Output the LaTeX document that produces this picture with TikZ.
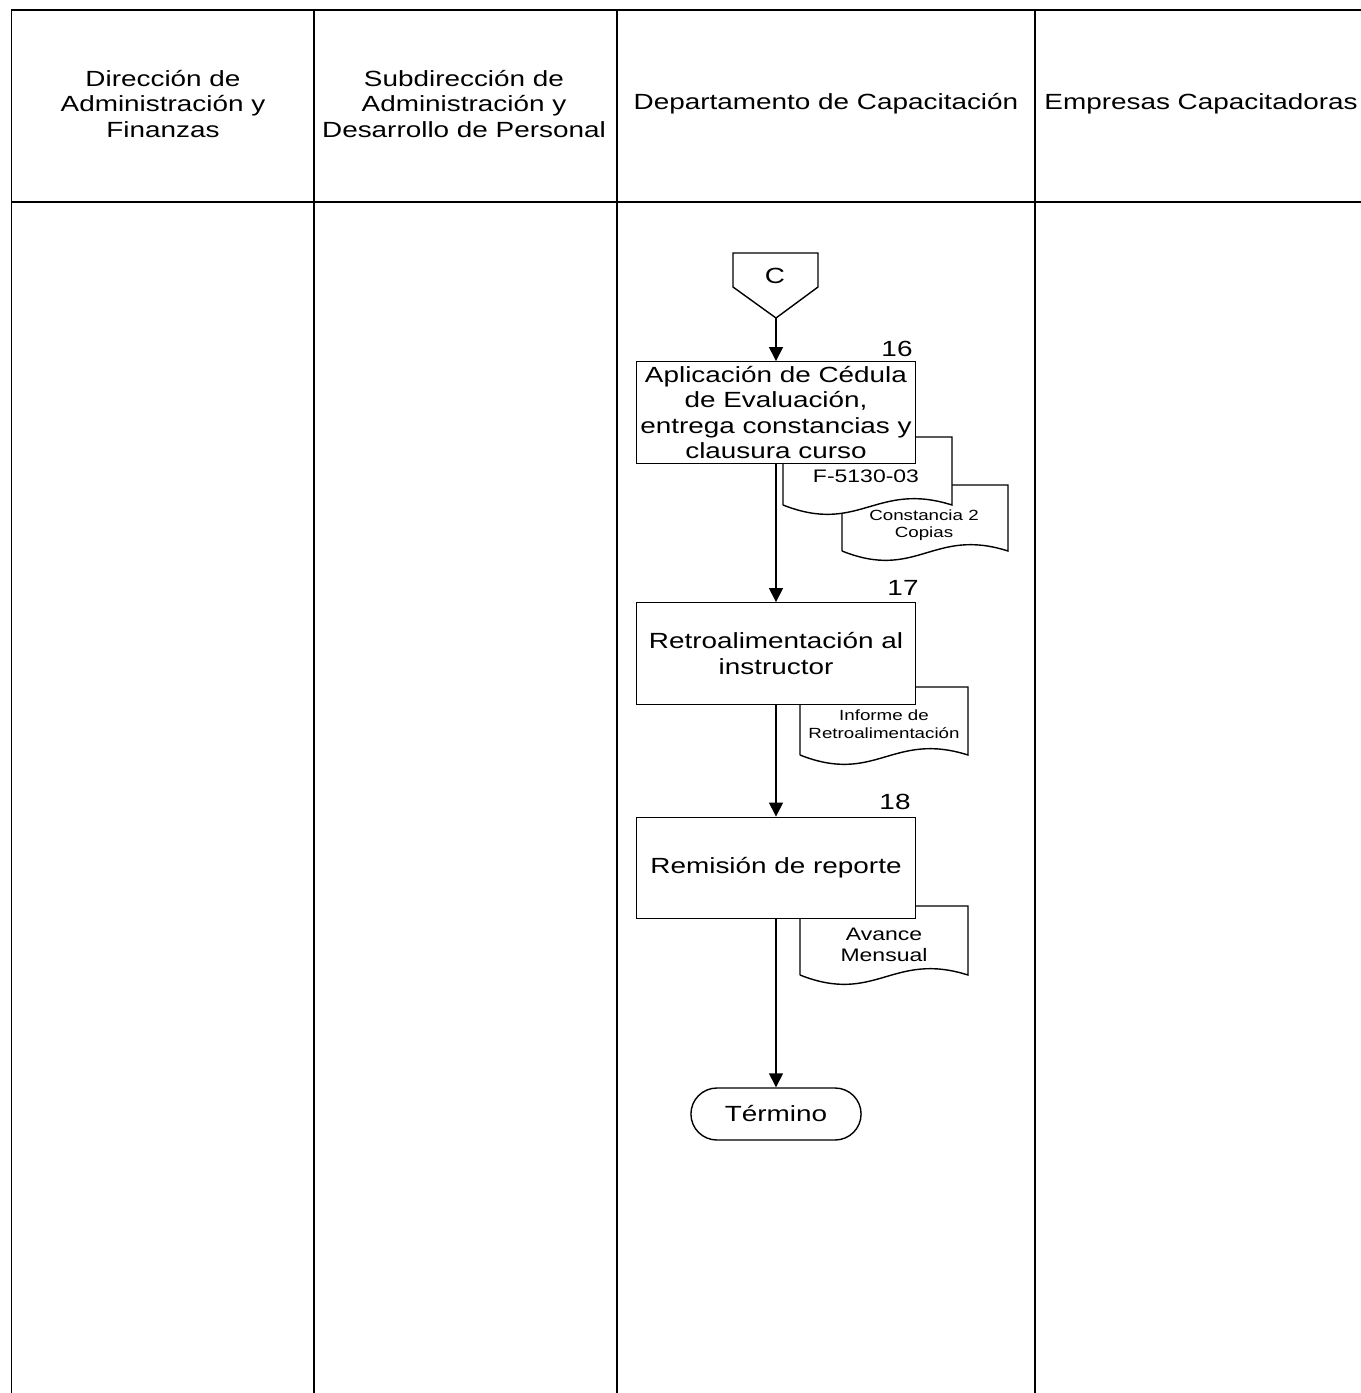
\documentclass[tikz,border=0pt]{standalone}
\usepackage{fontspec}
\setmainfont{Liberation Sans}
\usetikzlibrary{arrows.meta}
\tikzset{
  lane/.style={line width=0.8pt},                                  % swimlane rules
  txt/.style={align=center,xscale=1.27,inner sep=0pt,font=\fontsize{12.5}{14.6}\selectfont},
  small/.style={txt,font=\fontsize{8.4}{10}\selectfont},           % doc caption
  mid/.style={txt,font=\fontsize{10.3}{12}\selectfont},
  proc/.style={txt,draw,fill=white,line width=0.8pt,minimum width=4.40cm,minimum height=2.03cm},
  term/.style={txt,draw,fill=white,line width=0.8pt,rounded corners=0.52cm,minimum width=2.68cm,minimum height=1.04cm},
  flow/.style={-{Triangle[length=2.8mm,width=2.8mm]},line width=0.8pt},
  docu/.style={draw,fill=white,line width=0.8pt},
}
\newcommand{\docshape}[4]{% x1, top, x2, bottom
  \draw[docu] (#1,#4) -- (#1,#2) -- (#3,#2) -- (#3,#4)
    .. controls ({#1+0.55*(#3-#1)},{#4-24}) and ({#1+0.45*(#3-#1)},{#4+30}) .. (#1,#4);
}
\newcommand{\offpage}[2]{% tip x, tip y
  \draw[lane] ({#1-43},{#2-65}) -- ({#1+42},{#2-65}) -- ({#1+42},{#2-31})
    -- (#1,#2) -- ({#1-43},{#2-31}) -- cycle;
}

\begin{document}
\begin{tikzpicture}[x=0.02cm,y=-0.02cm]
  \useasboundingbox (0,0) rectangle (1361,1393);
  % lanes
  \draw[lane] (1361,10) -- (11.5,10) -- (11.5,1393);
  \draw[lane] (11.5,202) -- (1361,202);
  \foreach \x in {314,617,1035} \draw[lane] (\x,10) -- (\x,1393);
  \node[txt] (dir) at (163,104) {Dirección de\\Administración y\\Finanzas};
  \node[txt] (sub) at (464,104) {Subdirección de\\Administración y\\Desarrollo de Personal};
  \node[txt] (dep) at (826,104) {Departamento de Capacitación};
  \node[txt] (emp) at (1201,104) {Empresas Capacitadoras};

  % connector C
  \offpage{776}{318}
  \coordinate (ctip) at (776,318);
  \node[txt] (conC) at (775,276) {C};

  % step 16
  \docshape{842}{485}{1008}{551}
  \node[small] (const) at (924,525) {Constancia 2\\Copias};
  \docshape{783}{437}{952}{505}
  \node[mid] (form) at (866,476) {F-5130-03};
  \node[proc] (a16) at (776,412.5) {Aplicación de Cédula\\de Evaluación,\\entrega constancias y\\clausura curso};
  \node[txt] (n16) at (897,349) {16};

  % step 17
  \docshape{800}{687}{968}{755}
  \node[small] (inf) at (884,724) {Informe de\\Retroalimentación};
  \node[proc] (a17) at (776,653.5) {Retroalimentación al\\instructor};
  \node[txt] (n17) at (903,588) {17};

  % step 18
  \docshape{800}{906}{968}{975}
  \node[mid] (ava) at (884,945) {Avance\\Mensual};
  \node[proc] (a18) at (776,868) {Remisión de reporte};
  \node[txt] (n18) at (895,802) {18};

  \node[term] (fin) at (776,1114) {Término};

  % flow
  \draw[flow] (ctip) -- (a16.north);
  \draw[flow] (a16.south) -- (a17.north);
  \draw[flow] (a17.south) -- (a18.north);
  \draw[flow] (a18.south) -- (fin.north);
\end{tikzpicture}
\end{document}
